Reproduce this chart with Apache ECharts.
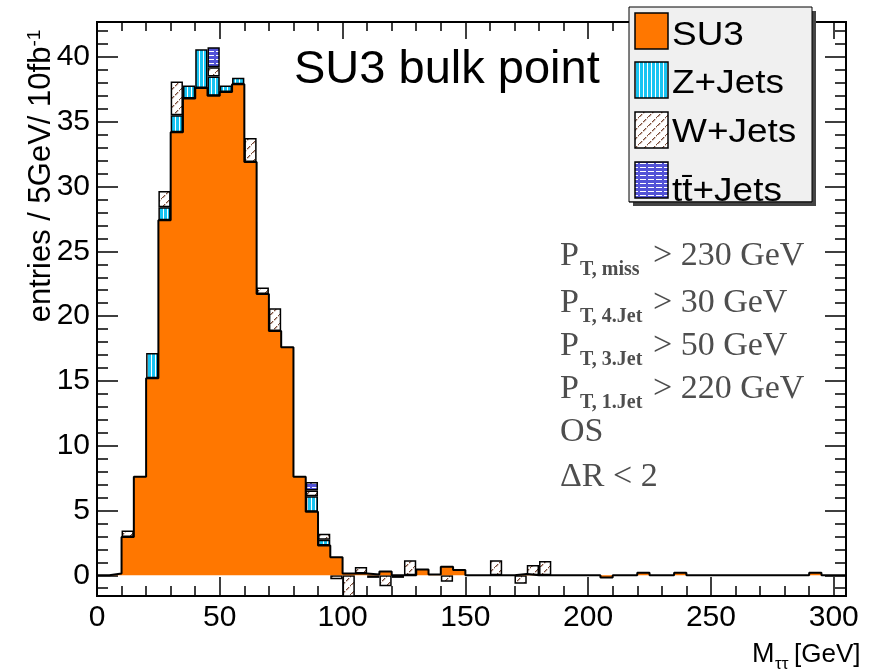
<!DOCTYPE html>
<html><head><meta charset="utf-8">
<script src="https://cdn.jsdelivr.net/npm/echarts@6/dist/echarts.min.js"></script>
<style>html,body{margin:0;padding:0;background:#fff}#c{width:873px;height:672px}</style>
</head><body><div id="c"></div>
<script>
// ---- data (5 GeV bins, lower edges) ----
const binLow = [0,5,10,15,20,25,30,35,40,45,50,55,60,65,70,75,80,85,90,95,
  100,105,110,115,120,125,130,135,140,145,150,155,160,165,170,175,180,185,190,195,
  200,205,210,215,220,225,230,235,240,245,250,255,260,265,270,275,280,285,290,295,300];
const su3 = [0,0.13,2.95,7.6,15.2,27.4,34.2,36.8,37.6,37.0,
  37.3,37.9,31.9,21.7,18.85,17.6,7.6,4.9,2.3,1.4,
  0.13,0.13,0.05,0.3,0,0,0.45,0.05,0.65,0.4,
  0,0,0,0,0.1,0,0,0,0,0,
  0,-0.18,0,0,0.2,0,0,0.2,0,0,
  0,0,0,0,0,0,0,0,0.2,0,0];
const zjets = [0,0,0,0,1.95,1.0,1.3,1.0,3.0,1.5,
  0.5,0.5,0,0,0,0,0,1.2,0.45,0,
  0,0,0,0,0,0,0,0,0,0,
  0,0,0,0,0,0,0,0,0,0,
  0,0,0,0,0,0,0,0,0,0,
  0,0,0,0,0,0,0,0,0,0,0];
const wjets = [0,0,0.5,0,0,1.25,2.6,0,0,0.7,
  0,0,1.85,0.5,1.75,0,0,0.45,0.45,-0.3,
  -1.9,0.5,-0.2,-0.85,-0.2,1.15,0,0,-0.5,0,
  0,0,1.15,0,-0.65,0.8,1.1,0,0,0,
  0,0,0,0,0,0,0,0,0,0,
  0,0,0,0,0,0,0,0,0,0,0];
const ttjets = [0,0,0,0,0,0,0,0,0,1.55,
  0,0,0,0,0,0,0,0.65,0,0,
  0,0,0,0,0,0,0,0,0,0,
  0,0,0,0,0,0,0,0,0,0,
  0,0,0,0,0,0,0,0,0,0,
  0,0,0,0,0,0,0,0,0,0,0];
const xMax = 305;
const xTicks = [0,50,100,150,200,250,300];
const xMinor = [10,20,30,40,60,70,80,90,110,120,130,140,160,170,180,190,210,220,230,240,260,270,280,290];
const yTicks = [0,5,10,15,20,25,30,35,40];
const yMinor = [-1,1,2,3,4,6,7,8,9,11,12,13,14,16,17,18,19,21,22,23,24,26,27,28,29,31,32,33,34,36,37,38,39,41,42];
const yMin = -1.6, yMax = 42.7;

// ---- patterns ----
function pat(w, h, draw) {
  const c = document.createElement('canvas'); c.width = w; c.height = h;
  const g = c.getContext('2d'); draw(g, w, h);
  return {image: c, repeat: 'repeat'};
}
const ORANGE = '#ff7700';
const zPat = pat(4, 4, (g) => { g.fillStyle = '#fff'; g.fillRect(0,0,4,4); g.fillStyle = '#18c4f2'; g.fillRect(0,0,3,4); });
const wPat = pat(9, 9, (g) => { g.fillStyle = '#fff'; g.fillRect(0,0,9,9);
  g.fillStyle = '#7a4a36'; for (let k = 0; k < 9; k++) { if (k % 4 !== 3) g.fillRect(k, 8 - k, 1.3, 1.3); } });
const tPat = pat(8, 4, (g) => { g.fillStyle = '#5252d6'; g.fillRect(0,0,8,4); g.fillStyle = '#fff'; g.fillRect(0,3,6,1); });

const nz = a => a.map(v => v === 0 ? '-' : v);
const outline = binLow.map((x, i) => [x, su3[i]]).concat([[xMax, su3[su3.length - 1]]]);

const FONT = 'Liberation Sans';
const tickStyle = {color: '#000', width: 1.5};
function xAx(pos, vals, len, labels) {
  return {type: 'value', min: 0, max: xMax, position: pos,
    axisLine: {show: false, onZero: false}, splitLine: {show: false},
    axisTick: {show: true, inside: true, length: len, lineStyle: tickStyle, customValues: vals},
    axisLabel: labels ? {show: true, customValues: vals, fontSize: 30, fontFamily: FONT, color: '#000', margin: 7} : {show: false}};
}
function yAx(pos, vals, len, labels) {
  return {type: 'value', min: yMin, max: yMax, position: pos,
    axisLine: {show: false, onZero: false}, splitLine: {show: false},
    axisTick: {show: true, inside: true, length: len, lineStyle: tickStyle, customValues: vals},
    axisLabel: labels ? {show: true, customValues: vals, fontSize: 30, fontFamily: FONT, color: '#000', margin: 7} : {show: false}};
}

const bord = {borderColor: '#000', borderWidth: 1.5};
const legendY = [13, 62, 112, 162];
const legendTextY = [35.5, 83.5, 132.5, 192];
const legendNames = ['SU3', 'Z+Jets', 'W+Jets', 't\u0074\u0304+Jets'];
const legendFills = [ORANGE, zPat, wPat, tPat];
const graphics = [];
// legend box
graphics.push({type: 'rect', z: 100, shape: {x: 633, y: 11, width: 183, height: 195}, style: {fill: '#444'}});
graphics.push({type: 'rect', z: 101, shape: {x: 629, y: 7, width: 183, height: 195}, style: {fill: '#f0f0f0', stroke: '#000', lineWidth: 1}});
legendY.forEach((y, i) => {
  graphics.push({type: 'rect', z: 102, shape: {x: 635, y: y, width: 33, height: 36}, style: {fill: legendFills[i], stroke: '#000', lineWidth: 1.5}});
  graphics.push({type: 'text', z: 102, x: 672, y: legendTextY[i], scaleX: 1.12, style: {text: legendNames[i], fontSize: 33, fontFamily: FONT, fill: '#000', textAlign: 'left', textVerticalAlign: 'middle'}});
});
graphics.push({type: 'rect', z: 103, shape: {x: 626, y: 202.5, width: 195, height: 16}, style: {fill: '#fff'}});
graphics.push({type: 'rect', z: 104, shape: {x: 633, y: 202, width: 183, height: 4}, style: {fill: '#444'}});
graphics.push({type: 'line', z: 105, shape: {x1: 629, y1: 202, x2: 812, y2: 202}, style: {stroke: '#000', lineWidth: 1}});
// title text
graphics.push({type: 'text', z: 90, x: 294, y: 70, style: {text: 'SU3 bulk point', fontSize: 47, fontFamily: FONT, fill: '#000', textAlign: 'left', textVerticalAlign: 'middle'}});
// y axis title
graphics.push({type: 'text', z: 90, x: 41, y: 176, rotation: Math.PI / 2, style: {
  text: '{a|entries / 5GeV/ 10fb}{s|-1}', textAlign: 'center', textVerticalAlign: 'middle',
  rich: {a: {fontSize: 31, fontFamily: FONT, fill: '#000'}, s: {fontSize: 19, fontFamily: FONT, fill: '#000', verticalAlign: 'top'}}}});
// x axis title
graphics.push({type: 'text', z: 90, x: 752, y: 655, style: {text: 'M', fontSize: 27, fontFamily: FONT, fill: '#000', textAlign: 'left', textVerticalAlign: 'middle'}});
graphics.push({type: 'text', z: 90, x: 775, y: 664, style: {text: '\u03c4\u03c4', fontSize: 17, fontFamily: FONT, fill: '#000', textAlign: 'left', textVerticalAlign: 'middle'}});
graphics.push({type: 'text', z: 90, x: 794, y: 655, style: {text: '[GeV]', fontSize: 26, fontFamily: FONT, fill: '#000', textAlign: 'left', textVerticalAlign: 'middle'}});
// cuts
const SERIF = 'Liberation Serif', CUTC = '#4e4e4e';
const cutBase = [266.7, 314, 356.7, 400];
const cutSub = ['T, miss', 'T, 4.Jet', 'T, 3.Jet', 'T, 1.Jet'];
const cutVal = ['> 230 GeV', '> 30 GeV', '> 50 GeV', '> 220 GeV'];
cutBase.forEach((b, i) => {
  graphics.push({type: 'text', z: 90, x: 560, y: b - 11, style: {text: 'P', fontSize: 34, fontFamily: SERIF, fill: CUTC, textVerticalAlign: 'middle'}});
  graphics.push({type: 'text', z: 90, x: 580, y: b + 3, style: {text: cutSub[i], fontSize: 20, fontWeight: 'bold', fontFamily: SERIF, fill: CUTC, textVerticalAlign: 'middle'}});
  graphics.push({type: 'text', z: 90, x: 653, y: b - 11, style: {text: cutVal[i], fontSize: 34, fontFamily: SERIF, fill: CUTC, textVerticalAlign: 'middle'}});
});
graphics.push({type: 'text', z: 90, x: 560, y: 432.3, style: {text: 'OS', fontSize: 34, fontFamily: SERIF, fill: CUTC, textVerticalAlign: 'middle'}});
graphics.push({type: 'text', z: 90, x: 560, y: 477.3, style: {text: '\u0394R < 2', fontSize: 34, fontFamily: SERIF, fill: CUTC, textVerticalAlign: 'middle'}});

const chart = echarts.init(document.getElementById('c'), null, {renderer: 'canvas'});
chart.setOption({
  animation: false,
  backgroundColor: '#fff',
  grid: {left: 97, top: 22, right: 27, bottom: 76, show: true, borderColor: '#000', borderWidth: 2, backgroundColor: 'transparent'},
  xAxis: [
    {type: 'category', data: binLow.map(String), show: false, boundaryGap: true, axisLine: {onZero: false}},
    xAx('bottom', xTicks, 19, true),
    xAx('bottom', xMinor, 10, false),
    xAx('top', xTicks, 17, false),
    xAx('top', xMinor, 9, false)
  ],
  yAxis: [
    yAx('left', yTicks, 21, true),
    yAx('left', yMinor, 11, false),
    yAx('right', yTicks, 21, false),
    yAx('right', yMinor, 11, false)
  ],
  series: [
    {name: 'SU3 (stack base)', type: 'bar', stack: 'h', xAxisIndex: 0, yAxisIndex: 0, barCategoryGap: '0%', clip: true,
      itemStyle: {color: 'rgba(0,0,0,0)'}, data: su3, silent: true},
    {name: 'Z+Jets', type: 'bar', stack: 'h', xAxisIndex: 0, yAxisIndex: 0, barCategoryGap: '0%', clip: true,
      itemStyle: Object.assign({color: zPat}, bord), data: nz(zjets)},
    {name: 'W+Jets', type: 'bar', stack: 'h', xAxisIndex: 0, yAxisIndex: 0, barCategoryGap: '0%', clip: true,
      itemStyle: Object.assign({color: wPat}, bord), data: nz(wjets)},
    {name: 'ttbar+Jets', type: 'bar', stack: 'h', xAxisIndex: 0, yAxisIndex: 0, barCategoryGap: '0%', clip: true,
      itemStyle: Object.assign({color: tPat}, bord), data: nz(ttjets)},
    {name: 'SU3', type: 'line', xAxisIndex: 1, yAxisIndex: 0, step: 'end', symbol: 'none', clip: true, z: 3,
      lineStyle: {color: '#000', width: 2}, areaStyle: {color: ORANGE, opacity: 1}, data: outline}
  ],
  graphic: graphics
});
</script></body></html>
